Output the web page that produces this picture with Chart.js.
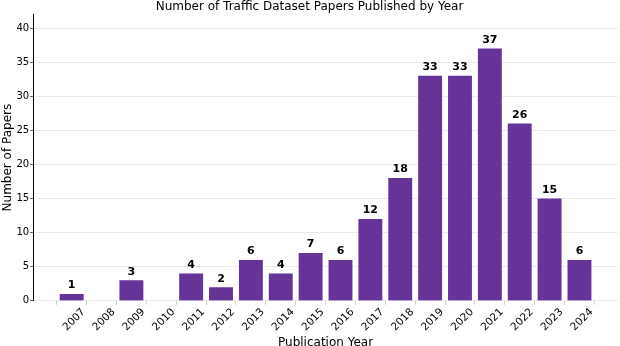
<!DOCTYPE html>
<html><head><meta charset="utf-8">
<script src="https://cdn.jsdelivr.net/npm/chart.js@4"></script>
<style>html,body{margin:0;padding:0;background:#fff}#wrap{width:620px;height:346px;position:relative}</style>
</head><body><div id="wrap"><canvas id="c" width="620" height="346"></canvas></div>
<script>
const years = ["2007","2008","2009","2010","2011","2012","2013","2014","2015","2016","2017","2018","2019","2020","2021","2022","2023","2024"];
const papers = [1,0,3,0,4,2,6,4,7,6,12,18,33,33,37,26,15,6];
const yTicks = [0,5,10,15,20,25,30,35,40];

const FONT = "'DejaVu Sans', sans-serif";
const valueLabels = {
  id: 'valueLabels',
  afterDatasetsDraw(chart) {
    const ctx = chart.ctx;
    const meta = chart.getDatasetMeta(0);
    ctx.save();
    ctx.font = "bold 11px " + FONT;
    ctx.fillStyle = '#000';
    ctx.textAlign = 'center';
    ctx.textBaseline = 'bottom';
    meta.data.forEach((bar, i) => {
      const v = papers[i];
      if (v > 0) ctx.fillText(String(v), bar.x, bar.y - 3);
    });
    ctx.restore();
  }
};

new Chart(document.getElementById('c'), {
  type: 'bar',
  data: {
    datasets: [{
      data: papers.map((v, i) => ({x: i, y: v})),
      backgroundColor: '#663399',
      borderWidth: 0,
      barPercentage: 0.8,
      categoryPercentage: 1.0
    }]
  },
  plugins: [valueLabels],
  options: {
    responsive: false,
    animation: false,
    layout: {padding: {left: 1, right: 2, top: 0, bottom: -4}},
    plugins: {
      legend: {display: false},
      tooltip: {enabled: false},
      title: {
        display: true,
        text: 'Number of Traffic Dataset Papers Published by Year',
        color: '#000',
        font: {family: FONT, size: 12, weight: 'normal'},
        padding: {top: 0, bottom: 0}
      }
    },
    scales: {
      x: {
        type: 'linear',
        offset: false,
        min: -1.29,
        max: 18.29,
        afterBuildTicks(axis) { axis.ticks = years.map((y, i) => ({value: i})); },
        ticks: {
          autoSkip: false,
          maxRotation: 45,
          minRotation: 45,
          labelOffset: 12,
          padding: 1,
          color: '#000',
          font: {family: FONT, size: 10.5},
          callback: (v) => years[v]
        },
        grid: {display: true, drawOnChartArea: false, drawTicks: true, tickLength: 4, color: '#cccccc'},
        border: {display: false},
        title: {display: true, text: 'Publication Year', color: '#000', font: {family: FONT, size: 12}, padding: {top: 1, bottom: 0}}
      },
      y: {
        min: 0,
        max: 42,
        afterBuildTicks(axis) { axis.ticks = yTicks.map(v => ({value: v})); },
        ticks: {color: '#000', font: {family: FONT, size: 10}, padding: 1},
        grid: {color: '#e6e6e6', lineWidth: 0.8, tickLength: 3, tickColor: '#333'},
        border: {display: true, color: '#000', width: 1},
        title: {display: true, text: 'Number of Papers', color: '#000', font: {family: FONT, size: 12}, padding: {top: 0, bottom: 0}}
      }
    }
  }
});
</script></body></html>
